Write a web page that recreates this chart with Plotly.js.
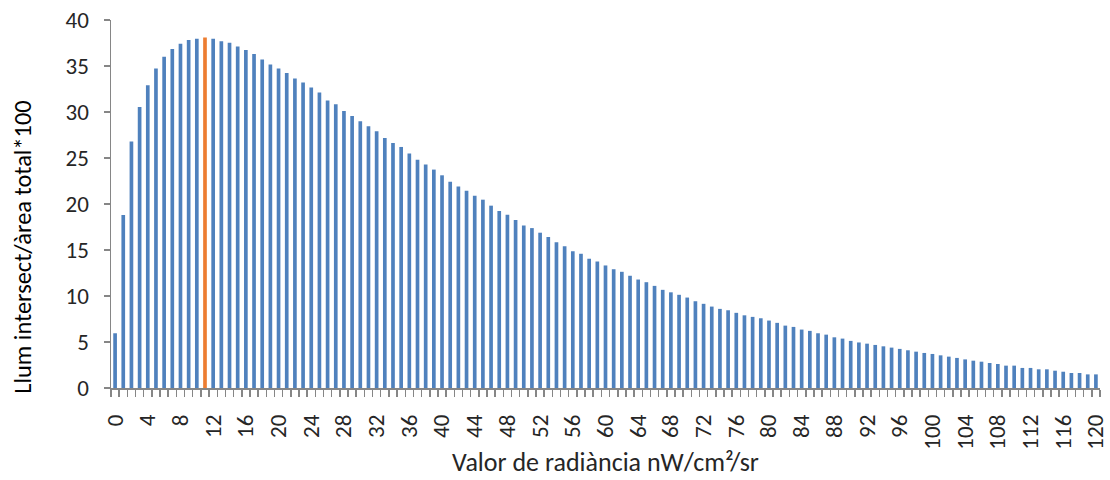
<!DOCTYPE html>
<html>
<head>
<meta charset="utf-8">
<script src="https://cdn.plot.ly/plotly-3.0.1.min.js"></script>
<style>html,body{margin:0;padding:0;background:#fff;}#chart{width:1110px;height:480px;}</style>
</head>
<body>
<div id="chart"></div>
<script>
// Category values (radiance nW/cm2/sr), 0..120
const categories = [];
for (let i = 0; i <= 120; i++) categories.push(i);

const values = [
  5.95, 18.8, 26.8, 30.55, 32.9, 34.74, 36.0, 36.84, 37.42, 37.82,
  37.97, 38.1, 37.97, 37.68, 37.53, 37.13, 36.73, 36.3, 35.72, 35.17,
  34.74, 34.23, 33.63, 33.21, 32.66, 32.12, 31.25, 30.85, 30.12, 29.57,
  29.0, 28.45, 27.91, 27.18, 26.63, 26.2, 25.48, 24.82, 24.28, 23.74,
  23.12, 22.43, 21.89, 21.45, 20.9, 20.47, 19.82, 19.23, 18.84, 18.25,
  17.67, 17.38, 16.88, 16.4, 15.85, 15.42, 14.87, 14.59, 14.05, 13.75,
  13.32, 12.91, 12.63, 12.2, 11.79, 11.5, 11.1, 10.67, 10.4, 10.13,
  9.83, 9.43, 9.15, 8.85, 8.6, 8.45, 8.17, 7.9, 7.73, 7.58,
  7.33, 7.08, 6.78, 6.64, 6.35, 6.21, 5.95, 5.8, 5.51, 5.37,
  5.12, 4.95, 4.82, 4.68, 4.53, 4.39, 4.25, 4.1, 3.95, 3.81,
  3.7, 3.55, 3.41, 3.27, 3.11, 2.97, 2.86, 2.72, 2.61, 2.43,
  2.43, 2.18, 2.18, 2.03, 2.03, 1.88, 1.77, 1.63, 1.63, 1.48,
  1.48
];

const highlightCategory = 11;
const xTickLabels = [];
for (let v = 0; v <= 120; v += 4) xTickLabels.push(v);

const xTitle = 'Valor de radiància nW/cm²/sr';
const yTitle = 'Llum intersect/àrea total*100';

const blue = '#4F81BD', orange = '#ED7D31';
const colors = categories.map(c => c === highlightCategory ? orange : blue);

const fontFam = 'Carlito, Calibri, "Open Sans", "Noto Sans", sans-serif';

const trace = {
  type: 'bar',
  x: categories,
  y: values,
  marker: {color: colors, line: {width: 0}},
  hoverinfo: 'x+y'
};

const layout = {
  width: 1110, height: 480,
  margin: {l: 110.6, r: 10, t: 19.5, b: 92, pad: 0},
  paper_bgcolor: '#fff', plot_bgcolor: '#fff',
  bargap: 0.55,
  showlegend: false,
  font: {family: fontFam, size: 23, color: '#404040'},
  xaxis: {
    type: 'linear',
    range: [-0.5, 120.5],
    tickmode: 'array',
    tickvals: xTickLabels,
    ticktext: xTickLabels.map(String),
    tickangle: -90,
    ticks: '',
    ticklabelstandoff: 16,
    showgrid: false, zeroline: false,
    showline: true, linecolor: '#868686', linewidth: 1.5,
    minor: {tick0: 0.5, dtick: 1, ticks: 'outside', ticklen: 7, tickcolor: '#868686', tickwidth: 1.5, showgrid: false},
    tickfont: {family: fontFam, size: 23, color: '#262626'},
    automargin: false,
    title: {text: xTitle, font: {family: fontFam, size: 26, color: '#262626'}, standoff: 4}
  },
  yaxis: {
    range: [0, 40],
    tickmode: 'linear', tick0: 0, dtick: 5,
    ticks: 'outside', ticklen: 6, tickcolor: '#868686', tickwidth: 1.5,
    ticklabelstandoff: 10,
    showgrid: false, zeroline: false,
    showline: true, linecolor: '#868686', linewidth: 1.5,
    tickfont: {family: fontFam, size: 23, color: '#262626'},
    automargin: false
  },
  annotations: [{
    text: yTitle,
    xref: 'paper', yref: 'paper',
    x: -0.0885, y: 0.385,
    xanchor: 'center', yanchor: 'middle',
    textangle: -90,
    showarrow: false,
    font: {family: fontFam, size: 24.4, color: '#000'}
  }]
};

Plotly.newPlot('chart', [trace], layout, {displayModeBar: false, staticPlot: true});
</script>
</body>
</html>
